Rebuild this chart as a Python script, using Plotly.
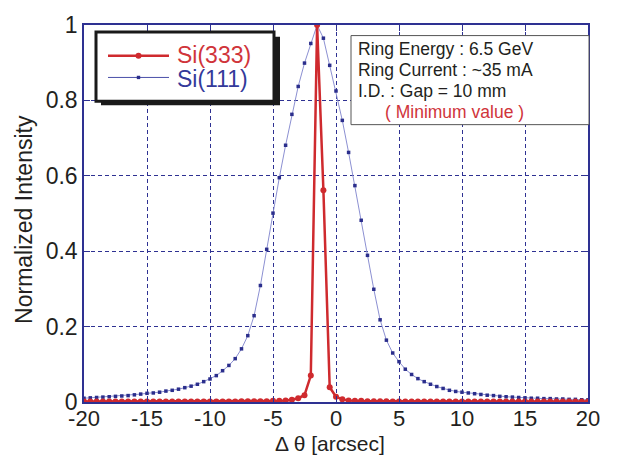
import plotly.graph_objects as go

# ---------------- data ----------------
theta = [i * 0.5 for i in range(-40, 41)]  # -20 .. 20 arcsec, step 0.5

si111 = [
    0.010, 0.011, 0.012, 0.013, 0.014, 0.015, 0.016, 0.017, 0.019, 0.021,   # -20 .. -15.5
    0.023, 0.024, 0.026, 0.029, 0.031, 0.034, 0.038, 0.042, 0.047, 0.054,   # -15 .. -10.5
    0.061, 0.070, 0.083, 0.097, 0.115, 0.141, 0.176, 0.229, 0.309, 0.405,   # -10 .. -5.5
    0.501, 0.595, 0.681, 0.763, 0.837, 0.899, 0.951, 1.000, 0.965, 0.893,   # -5 .. -0.5
    0.825, 0.747, 0.662, 0.574, 0.482, 0.389, 0.299, 0.218, 0.164, 0.130,   # 0 .. 4.5
    0.107, 0.087, 0.073, 0.062, 0.054, 0.047, 0.041, 0.036, 0.031, 0.028,   # 5 .. 9.5
    0.026, 0.024, 0.022, 0.020, 0.018, 0.017, 0.015, 0.014, 0.013, 0.012,   # 10 .. 14.5
    0.011, 0.010, 0.010, 0.009, 0.009, 0.008, 0.008, 0.007, 0.007, 0.006,   # 15 .. 19.5
    0.006,                                                                   # 20
]

si333 = [
    0.001, 0.001, 0.001, 0.001, 0.001, 0.001, 0.001, 0.001, 0.001, 0.001,   # -20 .. -15.5
    0.001, 0.001, 0.001, 0.001, 0.001, 0.001, 0.001, 0.001, 0.001, 0.001,   # -15 .. -10.5
    0.001, 0.001, 0.001, 0.001, 0.001, 0.002, 0.002, 0.002, 0.002, 0.002,   # -10 .. -5.5
    0.003, 0.003, 0.004, 0.006, 0.010, 0.018, 0.070, 1.000, 0.562, 0.039,   # -5 .. -0.5
    0.014, 0.007, 0.004, 0.003, 0.003, 0.002, 0.002, 0.002, 0.002, 0.001,   # 0 .. 4.5
    0.001, 0.001, 0.001, 0.001, 0.001, 0.001, 0.001, 0.001, 0.001, 0.001,   # 5 .. 9.5
    0.001, 0.001, 0.001, 0.001, 0.001, 0.001, 0.001, 0.001, 0.001, 0.001,   # 10 .. 14.5
    0.001, 0.001, 0.001, 0.001, 0.001, 0.001, 0.001, 0.001, 0.001, 0.001,   # 15 .. 19.5
    0.001,                                                                   # 20
]

x_ticks = [-20, -15, -10, -5, 0, 5, 10, 15, 20]
y_ticks = [0, 0.2, 0.4, 0.6, 0.8, 1]
y_tick_labels = ["0", "0.2", "0.4", "0.6", "0.8", "1"]

legend_names = ["Si(333)", "Si(111)"]
info_lines = ["Ring Energy : 6.5 GeV", "Ring Current : ~35 mA", "I.D. : Gap = 10 mm"]
info_note = "( Minimum value )"

# ---------------- styling ----------------
W, H = 619, 455
L, R, T, B = 84, 31, 21, 53
PW, PH = W - L - R, H - T - B
NAVY = "#2e3192"
RED = "#cf2a2e"
BLUE_LINE = "#8c90d2"
BLUE_MK = "#2b2e8c"
FONT = "Liberation Sans, Arial, sans-serif"
TXT = "#231f20"


def px(xp):
    return (xp - L) / PW


def py(yp):
    return (H - B - yp) / PH


fig = go.Figure()
fig.add_trace(go.Scatter(
    x=theta, y=si111, mode="lines+markers", name=legend_names[1],
    line=dict(color=BLUE_LINE, width=1),
    marker=dict(symbol="square", size=3.5, color=BLUE_MK),
    showlegend=False,
))
fig.add_trace(go.Scatter(
    x=theta, y=si333, mode="lines+markers", name=legend_names[0],
    line=dict(color=RED, width=2.5),
    marker=dict(symbol="circle", size=6, color=RED),
    showlegend=False,
))

shapes = []
annotations = []

# legend box with shadow
shapes.append(dict(type="rect", xref="paper", yref="paper",
                   x0=px(101), x1=px(280), y0=py(102), y1=py(33),
                   fillcolor="#1a1a1a", line=dict(width=0), layer="above"))
shapes.append(dict(type="rect", xref="paper", yref="paper",
                   x0=px(96), x1=px(274), y0=py(98), y1=py(28),
                   fillcolor="white", line=dict(color="#1a1a1a", width=3), layer="above"))
# legend samples
shapes.append(dict(type="line", xref="paper", yref="paper",
                   x0=px(108), x1=px(169), y0=py(52), y1=py(52),
                   line=dict(color=RED, width=2.5), layer="above"))
shapes.append(dict(type="circle", xref="paper", yref="paper",
                   x0=px(135.5), x1=px(141.5), y0=py(55), y1=py(49),
                   fillcolor=RED, line=dict(width=0), layer="above"))
shapes.append(dict(type="line", xref="paper", yref="paper",
                   x0=px(108), x1=px(169), y0=py(74), y1=py(74),
                   line=dict(color="#4a4fa8", width=1), layer="above"))
shapes.append(dict(type="rect", xref="paper", yref="paper",
                   x0=px(136.8), x1=px(140.2), y0=py(75.7), y1=py(72.3),
                   fillcolor=BLUE_MK, line=dict(width=0), layer="above"))
annotations.append(dict(xref="paper", yref="paper", x=px(175), y=py(51),
                        text=legend_names[0], showarrow=False, xanchor="left", yanchor="middle",
                        font=dict(family=FONT, size=23, color="#d0343a")))
annotations.append(dict(xref="paper", yref="paper", x=px(175), y=py(76),
                        text=legend_names[1], showarrow=False, xanchor="left", yanchor="middle",
                        font=dict(family=FONT, size=23, color="#33399a")))

# info box
shapes.append(dict(type="rect", xref="paper", yref="paper",
                   x0=px(351), x1=px(589), y0=py(121.7), y1=py(31.7),
                   fillcolor="white", line=dict(color="#555555", width=1), layer="above"))
for i, (txt, yy) in enumerate(zip(info_lines, [45, 66.5, 88])):
    annotations.append(dict(xref="paper", yref="paper", x=px(356), y=py(yy),
                            text=txt, showarrow=False, xanchor="left", yanchor="middle",
                            font=dict(family=FONT, size=17.5, color=TXT)))
annotations.append(dict(xref="paper", yref="paper", x=px(383), y=py(108.5),
                        text=info_note, showarrow=False, xanchor="left", yanchor="middle",
                        font=dict(family=FONT, size=17.5, color="#d0343a")))

# axis titles
annotations.append(dict(xref="paper", yref="paper", x=px(330), y=py(444),
                        text="Δ θ [arcsec]", showarrow=False, xanchor="center", yanchor="middle",
                        font=dict(family=FONT, size=21, color=TXT)))
annotations.append(dict(xref="paper", yref="paper", x=px(24), y=py(218),
                        text="Normalized Intensity", showarrow=False, textangle=-90,
                        xanchor="center", yanchor="middle",
                        font=dict(family=FONT, size=23, color=TXT)))

fig.update_layout(
    width=W, height=H,
    margin=dict(l=L, r=R, t=T, b=B, pad=0),
    paper_bgcolor="white", plot_bgcolor="white",
    shapes=shapes, annotations=annotations,
    xaxis=dict(range=[-20, 20], tickvals=x_ticks, ticktext=[str(v) for v in x_ticks],
               showgrid=True, gridcolor=NAVY, griddash="4px,3px", gridwidth=1,
               zeroline=False, showline=True, linecolor=NAVY, linewidth=1.5, mirror="ticks",
               ticks="inside", ticklen=6, tickcolor=NAVY, tickwidth=1,
               ticklabelstandoff=-4,
               tickfont=dict(family=FONT, size=22, color=TXT)),
    yaxis=dict(range=[0, 1], tickvals=y_ticks, ticktext=y_tick_labels,
               showgrid=True, gridcolor=NAVY, griddash="4px,3px", gridwidth=1,
               zeroline=False, showline=True, linecolor=NAVY, linewidth=1.5, mirror="ticks",
               ticks="inside", ticklen=6, tickcolor=NAVY, tickwidth=1,
               tickfont=dict(family=FONT, size=23, color=TXT)),
)

fig.write_html("out.html")
